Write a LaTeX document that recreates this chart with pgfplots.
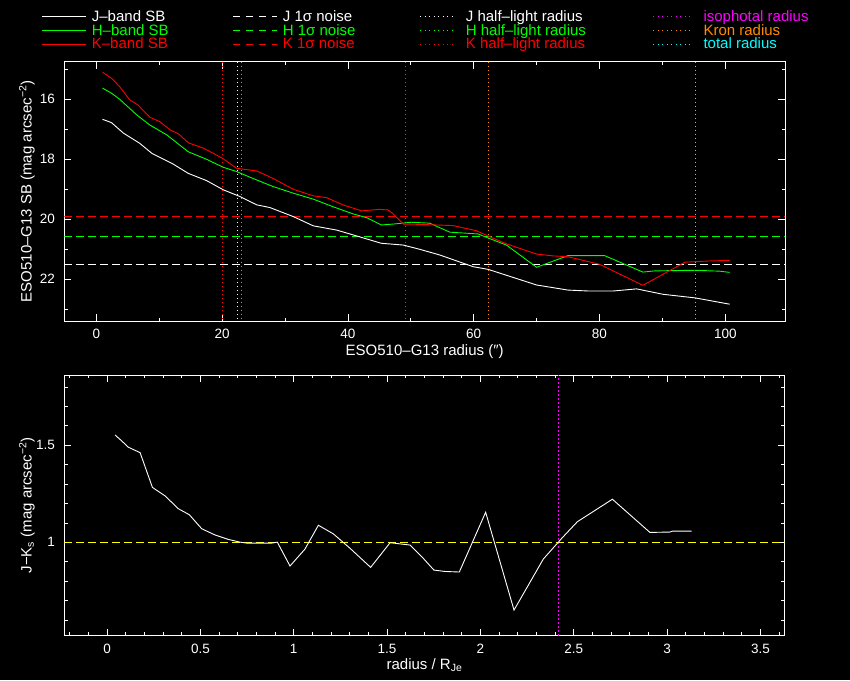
\documentclass[border=0pt]{standalone}
\usepackage{pgfplots}
\pgfplotsset{compat=1.18}
\usepackage{fontspec}
\setmainfont{Liberation Sans}
\definecolor{kgreen}{RGB}{0,255,0}
\definecolor{kred}{RGB}{255,0,0}
\definecolor{kmag}{RGB}{255,0,255}
\definecolor{korange}{RGB}{255,140,0}
\definecolor{kcyan}{RGB}{0,255,255}
\definecolor{kyellow}{RGB}{255,255,0}
\tikzset{
  noise/.style={line width=0.9pt, dash pattern=on 8pt off 4pt},
  vline/.style={line width=0.8pt, dash pattern=on 1.5pt off 2.5pt},
  curve/.style={line width=0.9pt},
}
\pgfplotsset{
  pgstyle/.style={
    scale only axis,
    axis line style={white, line width=0.8pt},
    every tick/.style={white, line width=0.8pt},
    tick align=inside,
    major tick length=7pt,
    minor tick length=3.5pt,
    ticklabel style={white, font=\fontsize{13.5}{13.5}\selectfont},
    /pgf/number format/assume math mode=true,
    label style={white, font=\fontsize{15}{15}\selectfont},
    xticklabel style={anchor=center, yshift=-13pt},
    yticklabel style={anchor=east, xshift=-6pt},
  },
}
\begin{document}
\begin{tikzpicture}
\fill[black] (0pt,0pt) rectangle (850pt,680pt);
\path[use as bounding box] (0pt,0pt) rectangle (850pt,680pt);

% ---------------- top panel ----------------
\begin{axis}[pgstyle,
  at={(64.3pt,359pt)}, anchor=south west,
  width=720.7pt, height=259.3pt,
  xmin=-5.1, xmax=109.5, ymin=14.75, ymax=23.39, y dir=reverse,
  xtick={0,20,...,100}, minor xtick={10,30,50,70,90},
  ytick={16,18,20,22}, minor ytick={15,17,19,21,23},
  xlabel={ESO510–G13 radius (″)},
  ylabel={ESO510–G13 SB (mag arcsec\textsuperscript{−2})},
  xlabel style={at={(axis description cs:0.5,-0.118)}, anchor=center},
  ylabel style={at={(axis description cs:-0.0518,0.5)}, anchor=center},
]
% noise levels
\addplot[noise, kred] coordinates {(-5.1,19.89) (109.5,19.89)};
\addplot[noise, kgreen] coordinates {(-5.1,20.56) (109.5,20.56)};
\addplot[noise, white] coordinates {(-5.1,21.49) (109.5,21.49)};
% radii
\addplot[vline, kred] coordinates {(20.1,14.75) (20.1,23.39)};
\addplot[vline, white] coordinates {(22.4,14.75) (22.4,23.39)};
\addplot[vline, kgreen] coordinates {(23.0,14.75) (23.0,23.39)};
\addplot[vline, kmag] coordinates {(49.1,14.75) (49.1,23.39)};
\addplot[vline, korange] coordinates {(62.3,14.75) (62.3,23.39)};
\addplot[vline, kcyan] coordinates {(95.2,14.75) (95.2,23.39)};
% J
\addplot[curve, white] coordinates {
(0.98,16.67) (2.4,16.78) (4.3,17.13) (6.9,17.47) (8.8,17.80) (12.2,18.16)
(14.6,18.47) (17.5,18.71) (20.2,19.02) (22.8,19.24) (25.5,19.52) (27.6,19.61)
(31.3,19.91) (34.5,20.22) (38.2,20.36) (40.8,20.52) (45.3,20.80) (48.8,20.86)
(51.4,21.00) (54.6,21.19) (59.9,21.58) (62.3,21.67) (70.0,22.19) (75.0,22.36)
(78.2,22.39) (82.2,22.39) (85.9,22.32) (90.1,22.50) (95.2,22.62) (100.7,22.83)};
% H
\addplot[curve, kgreen] coordinates {
(0.98,15.63) (2.4,15.80) (3.7,16.00) (6.4,16.52) (8.5,16.86) (11.2,17.19)
(14.6,17.75) (17.5,18.00) (20.2,18.27) (22.3,18.41) (24.9,18.64) (28.1,18.91)
(31.3,19.13) (34.5,19.33) (37.6,19.58) (40.8,19.82) (43.0,19.95) (45.3,20.19)
(47.2,20.16) (50.1,20.10) (53.0,20.13) (56.2,20.43) (60.7,20.49) (62.0,20.60)
(65.2,20.86) (70.0,21.60) (75.0,21.21) (80.8,21.21) (86.9,21.76) (88.8,21.72)
(95.2,21.70) (99.1,21.73) (100.7,21.77)};
% K
\addplot[curve, kred] coordinates {
(0.98,15.10) (2.4,15.30) (3.7,15.58) (5.3,16.02) (6.6,16.19) (8.5,16.60)
(10.1,16.75) (11.7,17.02) (13.1,17.16) (14.6,17.45) (17.0,17.63) (19.1,17.86)
(20.2,17.99) (22.3,18.30) (23.3,18.33) (25.5,18.39) (28.1,18.64) (31.3,19.00)
(34.5,19.22) (36.6,19.28) (39.2,19.52) (42.2,19.72) (45.0,19.67) (46.4,19.69)
(47.2,19.82) (48.8,20.16) (51.4,20.17) (56.7,20.21) (60.4,20.38) (62.3,20.56)
(65.2,20.82) (70.0,21.16) (72.6,21.22) (75.0,21.25) (80.0,21.50) (86.9,22.20)
(93.6,21.43) (97.5,21.39) (100.7,21.37)};
\end{axis}

% ---------------- bottom panel ----------------
\begin{axis}[pgstyle,
  at={(64.3pt,44.3pt)}, anchor=south west,
  width=720.4pt, height=260.7pt,
  xmin=-0.229, xmax=3.63, ymin=0.519, ymax=1.862,
  xtick={0,0.5,1,1.5,2,2.5,3,3.5},
  minor xtick={-0.2,-0.1,0.1,0.2,0.3,0.4,0.6,0.7,0.8,0.9,1.1,1.2,1.3,1.4,1.6,1.7,1.8,1.9,2.1,2.2,2.3,2.4,2.6,2.7,2.8,2.9,3.1,3.2,3.3,3.4,3.6},
  ytick={1,1.5},
  minor ytick={0.6,0.7,0.8,0.9,1.1,1.2,1.3,1.4,1.6,1.7,1.8},
  xlabel={radius / R\textsubscript{Je}},
  ylabel={J−K\textsubscript{s} (mag arcsec\textsuperscript{−2})},
  xlabel style={at={(axis description cs:0.5,-0.1124)}, anchor=center},
  ylabel style={at={(axis description cs:-0.0518,0.5)}, anchor=center},
]
\addplot[noise, kyellow] coordinates {(-0.229,1.0) (3.63,1.0)};
\addplot[vline, kmag] coordinates {(2.417,0.519) (2.417,1.862)};
\addplot[curve, white] coordinates {
(0.043,1.553) (0.079,1.522) (0.114,1.490) (0.177,1.462) (0.243,1.283) (0.311,1.239)
(0.382,1.173) (0.441,1.142) (0.507,1.070) (0.578,1.038) (0.650,1.015) (0.712,1.001)
(0.748,0.996) (0.882,0.996) (0.912,1.001) (0.980,0.878) (1.060,0.965) (1.132,1.088)
(1.213,1.043) (1.302,0.969) (1.412,0.871) (1.516,0.998) (1.623,0.986) (1.686,0.926)
(1.751,0.857) (1.810,0.850) (1.887,0.847) (2.028,1.155) (2.180,0.651) (2.337,0.914)
(2.435,1.020) (2.519,1.106) (2.707,1.222) (2.908,1.051) (3.015,1.053) (3.030,1.058)
(3.132,1.058)};
\end{axis}

% ---------------- legend ----------------
\begin{scope}[every node/.style={anchor=base west, inner sep=0pt, font=\fontsize{15}{15}\selectfont}]
\draw[curve, white] (42.3pt,663.3pt) -- (85.7pt,663.3pt);
\draw[curve, kgreen] (42.3pt,649.3pt) -- (85.7pt,649.3pt);
\draw[curve, kred] (42.3pt,635.7pt) -- (85.7pt,635.7pt);
\node[text=white] at (91.7pt,658.6pt) {J–band SB};
\node[text=kgreen] at (91.7pt,644.6pt) {H–band SB};
\node[text=kred] at (91.7pt,631pt) {K–band SB};

\draw[noise, white, dash pattern=on 6.5pt off 6.5pt] (233.3pt,663.3pt) -- (276.7pt,663.3pt);
\draw[noise, kgreen, dash pattern=on 6.5pt off 6.5pt] (233.3pt,649.3pt) -- (276.7pt,649.3pt);
\draw[noise, kred, dash pattern=on 6.5pt off 6.5pt] (233.3pt,635.7pt) -- (276.7pt,635.7pt);
\node[text=white] at (282.7pt,658.6pt) {J 1σ noise};
\node[text=kgreen] at (282.7pt,644.6pt) {H 1σ noise};
\node[text=kred] at (282.7pt,631pt) {K 1σ noise};

\draw[white, line width=0.9pt, dash pattern=on 1pt off 3.5pt] (420pt,663.3pt) -- (456pt,663.3pt);
\draw[kgreen, line width=0.9pt, dash pattern=on 1pt off 3.5pt] (420pt,649.3pt) -- (456pt,649.3pt);
\draw[kred, line width=0.9pt, dash pattern=on 1pt off 3.5pt] (420pt,635.7pt) -- (456pt,635.7pt);
\node[text=white] at (465.7pt,658.6pt) {J half–light radius};
\node[text=kgreen] at (465.7pt,644.6pt) {H half–light radius};
\node[text=kred] at (465.7pt,631pt) {K half–light radius};

\draw[kmag, line width=0.9pt, dash pattern=on 1pt off 3.5pt] (653.3pt,663.3pt) -- (693.3pt,663.3pt);
\draw[korange, line width=0.9pt, dash pattern=on 1pt off 3.5pt] (653.3pt,649.3pt) -- (693.3pt,649.3pt);
\draw[kcyan, line width=0.9pt, dash pattern=on 1pt off 3.5pt] (653.3pt,635.7pt) -- (693.3pt,635.7pt);
\node[text=kmag] at (703.3pt,658.6pt) {isophotal radius};
\node[text=korange] at (703.3pt,644.6pt) {Kron radius};
\node[text=kcyan] at (703.3pt,631pt) {total radius};
\end{scope}
\end{tikzpicture}
\end{document}
